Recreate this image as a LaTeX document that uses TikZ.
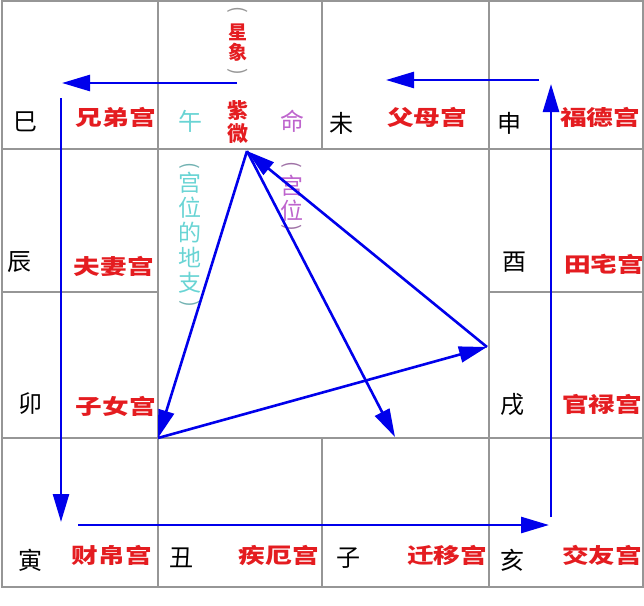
\documentclass[tikz,border=0pt]{standalone}
\usepackage{fontspec}
\newfontfamily\cjk{Noto Sans CJK SC}
\usetikzlibrary{arrows.meta}

\definecolor{palacered}{RGB}{228,28,32}
\definecolor{branchcyan}{RGB}{105,212,212}
\definecolor{mingpurple}{RGB}{190,100,205}
\definecolor{gridgray}{RGB}{150,150,150}
\definecolor{arrowblue}{RGB}{0,0,235}
\newcommand\widechars[1]{\scalebox{1.27}[1]{#1}}

\begin{document}
\begin{tikzpicture}[x=1pt,y=-1pt,
  branch/.style={font=\cjk\fontsize{24}{24}\selectfont, text=black, inner sep=0pt},
  palace/.style={font=\cjk\bfseries\fontsize{21}{21}\selectfont, text=palacered, inner sep=0pt},
  paren/.style={font=\cjk\fontsize{20}{20}\selectfont, inner sep=0pt, rotate=-90},
  flow/.style={draw=arrowblue, line width=2.6pt, -{Triangle[length=28pt,width=16pt]}}]
\useasboundingbox (0,0) rectangle (644,605);

% grid
\draw[gridgray, line width=1.5pt] (2,1) rectangle (643,587);
\draw[gridgray, line width=1.5pt] (158,1) -- (158,587) (489,1) -- (489,587)
  (322,1) -- (322,149) (322,438) -- (322,587)
  (2,149) -- (643,149) (2,438) -- (643,438)
  (2,292) -- (158,292) (489,292) -- (643,292);

% top row
\node[branch] (si) at (25,122) {巳};
\node[palace] (xiongdi) at (116,117) {\widechars{兄弟宫}};
\node[branch, text=branchcyan] (wu) at (190,121) {午};
\node[branch, text=mingpurple] (ming) at (292,121) {命};
\node[branch] (wei) at (341,123) {未};
\node[palace] (fumu) at (427,117) {\widechars{父母宫}};
\node[branch] (shen) at (509,123) {申};
\node[palace] (fude) at (600,117) {\widechars{福德宫}};

% left column
\node[branch] (chen) at (20,262) {辰};
\node[palace] (fuqi) at (114,266) {\widechars{夫妻宫}};
\node[branch] (mao) at (30,404) {卯};
\node[palace] (zinv) at (116,406) {\widechars{子女宫}};

% right column
\node[branch] (you) at (514,262) {酉};
\node[palace] (tianzhai) at (604,264) {\widechars{田宅宫}};
\node[branch] (xu) at (512,405) {戌};
\node[palace] (guanlu) at (602,404) {\widechars{官禄宫}};

% bottom row
\node[branch] (yin) at (30,560) {寅};
\node[palace] (caibo) at (112,555) {\widechars{财帛宫}};
\node[branch] (chou) at (181,558) {丑};
\node[palace] (jie) at (279,555) {\widechars{疾厄宫}};
\node[branch] (zi) at (348,558) {子};
\node[palace] (qianyi) at (447,555) {\widechars{迁移宫}};
\node[branch] (hai) at (512,560) {亥};
\node[palace] (jiaoyou) at (602,555) {\widechars{交友宫}};

% notes
\node[paren, text=gridgray] (xx-open) at (238,10) {(};
\node[align=center, inner sep=0pt, text=palacered, font=\cjk\bfseries\fontsize{19}{20}\selectfont] (xingxiang) at (238,43) {星\\象};
\node[paren, text=gridgray] (xx-close) at (238,72) {)};
\node[align=center, inner sep=0pt, text=palacered, font=\cjk\bfseries\fontsize{21}{23}\selectfont] (ziwei) at (238,122) {紫\\微};
\node[paren, text=branchcyan!60!gray] (dz-open) at (190,166) {(};
\node[align=center, inner sep=0pt, text=branchcyan, font=\cjk\fontsize{23}{25}\selectfont] (dizhi) at (190,233) {宫\\位\\的\\地\\支};
\node[paren, text=branchcyan!60!gray] (dz-close) at (190,304) {)};
\node[paren, text=mingpurple!50!gray] (gw-open) at (292,165) {(};
\node[align=center, inner sep=0pt, text=mingpurple, font=\cjk\fontsize{23}{25}\selectfont] (gongwei) at (292,198) {宫\\位};
\node[paren, text=mingpurple!50!gray] (gw-close) at (292,228) {)};

% arrows round the rim
\coordinate (top-mid) at (237,83);
\coordinate (top-left) at (62,83);
\coordinate (left-top) at (61,98);
\coordinate (left-bottom) at (61,522);
\coordinate (bottom-left) at (78,525);
\coordinate (bottom-right) at (549,525);
\coordinate (right-bottom) at (551,517);
\coordinate (right-top) at (551,84);
\coordinate (top-right) at (539,80);
\coordinate (top-centre) at (386,80);
\draw[flow] (top-mid) -- (top-left);
\draw[flow] (left-top) -- (left-bottom);
\draw[flow] (bottom-left) -- (bottom-right);
\draw[flow] (right-bottom) -- (right-top);
\draw[flow] (top-right) -- (top-centre);

% the triangle
\coordinate (apex) at (247,151);
\coordinate (corner) at (158,438);
\coordinate (tip) at (487,347);
\coordinate (foot) at (395,437);
\draw[flow] (apex) -- (corner);
\draw[flow] (corner) -- (tip);
\draw[flow] (tip) -- (apex);
\draw[flow] (apex) -- (foot);
\end{tikzpicture}
\end{document}
